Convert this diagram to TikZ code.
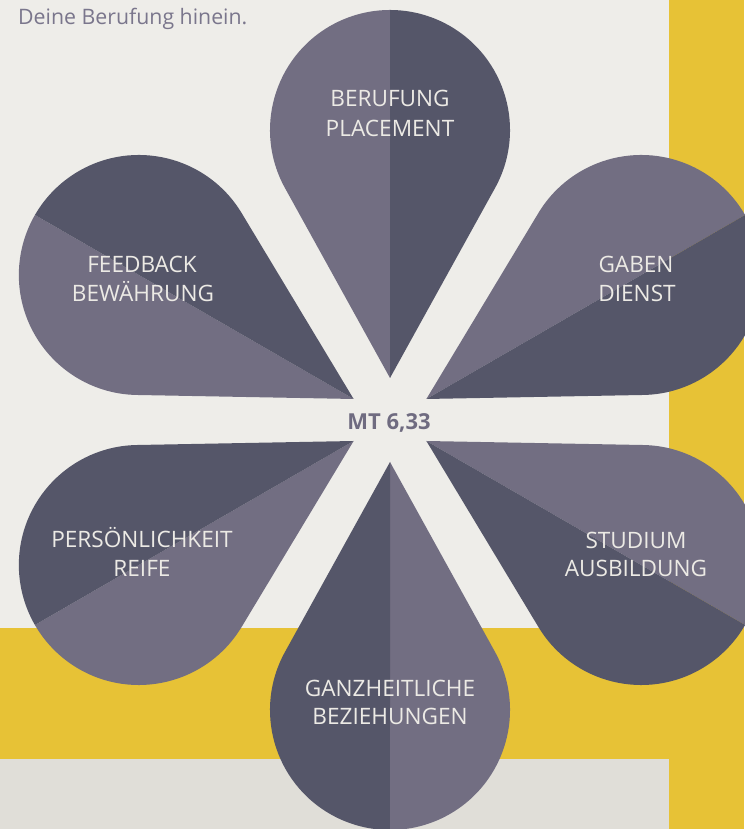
\documentclass[tikz,border=0pt]{standalone}
\usepackage{fontspec}
\setmainfont{Open Sans}
\begin{document}
\begin{tikzpicture}[x=1pt,y=1pt]
\definecolor{bglight}{HTML}{EEEDE9}
\definecolor{bgdark}{HTML}{E0DED8}
\definecolor{ochre}{HTML}{E7C236}
\definecolor{petlight}{HTML}{726E82}
\definecolor{petdark}{HTML}{555669}
\definecolor{pettext}{HTML}{ECEAE5}
\definecolor{midtext}{HTML}{6F6B80}
\definecolor{toptext}{HTML}{7A768C}
\tikzset{
  lbl/.style={anchor=base,inner sep=0pt,text=pettext,font=\fontsize{22.6}{29}\selectfont},
  lighthalf/.style={fill=petlight},
  darkhalf/.style={fill=petdark}
}
\useasboundingbox (0,0) rectangle (744,829);
% backgrounds
\fill[bglight] (0,0) rectangle (744,829);
\fill[bgdark] (0,0) rectangle (669,70);
\fill[ochre] (0,70) rectangle (744,201);
\fill[ochre] (669,0) rectangle (744,829);
% petals
\coordinate (O) at (390,409);
\foreach \ang in {90,30,-30,-90,-150,150}{
  \begin{scope}[shift={(O)},rotate=\ang]
    \fill[lighthalf] (42,0) -- (231.94,105.02) arc[start angle=118.94,end angle=0,radius=120pt] -- cycle;
    \fill[darkhalf] (42,0) -- (231.94,-105.02) arc[start angle=-118.94,end angle=0,radius=120pt] -- cycle;
  \end{scope}
}
% labels
\node[lbl] (b1) at (390,722) {BERUFUNG};
\node[lbl] (b2) at (390,692) {PLACEMENT};
\node[lbl] (g1) at (636,556) {GABEN};
\node[lbl] (g2) at (637,527) {DIENST};
\node[lbl] (f1) at (142,556) {FEEDBACK};
\node[lbl] (f2) at (143,527) {BEWÄHRUNG};
\node[lbl] (p1) at (142,281) {PERSÖNLICHKEIT};
\node[lbl] (p2) at (142,252) {REIFE};
\node[lbl] (s1) at (636,280) {STUDIUM};
\node[lbl] (s2) at (636,252) {AUSBILDUNG};
\node[lbl] (z1) at (390,132) {GANZHEITLICHE};
\node[lbl] (z2) at (390,104) {BEZIEHUNGEN};
\node[anchor=base,inner sep=0pt,text=midtext,font=\fontsize{22}{26}\selectfont\bfseries] (mt) at (389,399) {MT 6,33};
\node[anchor=base west,inner sep=0pt,text=toptext,font=\fontsize{21.3}{26}\selectfont] (top) at (18,804) {Deine Berufung hinein.};
\end{tikzpicture}
\end{document}
